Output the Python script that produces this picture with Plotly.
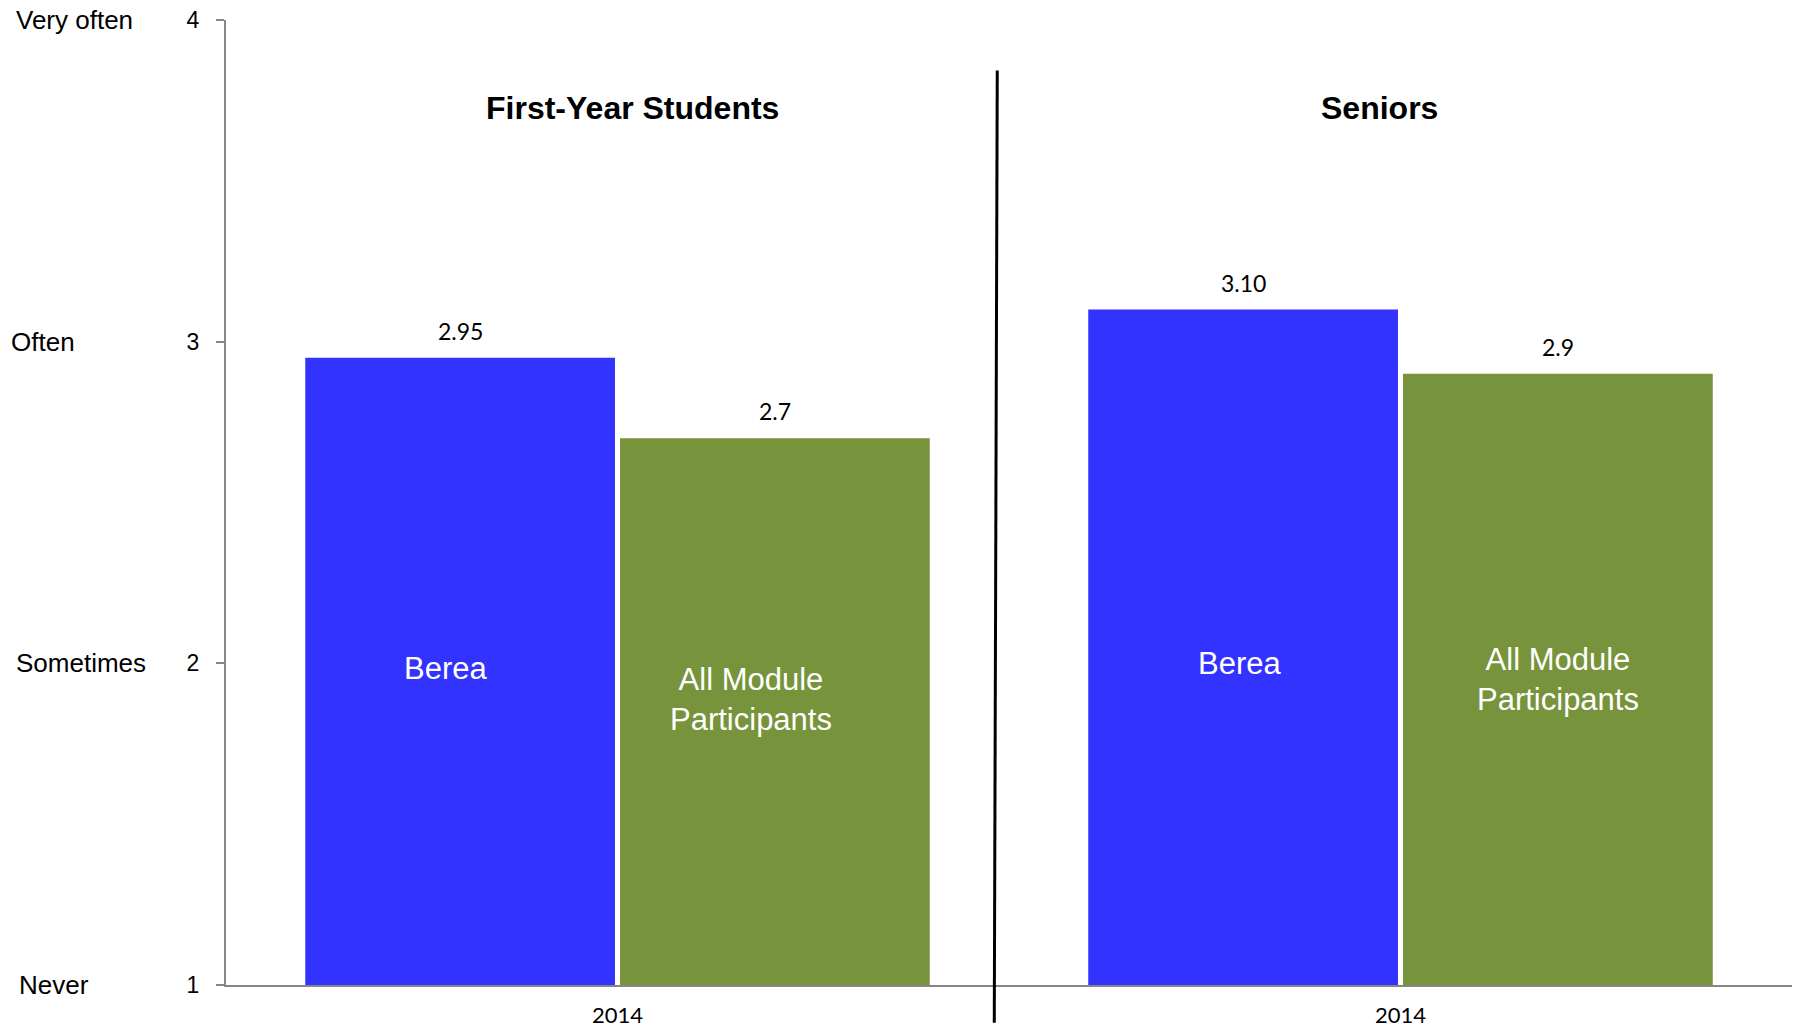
import plotly.graph_objects as go

# Mean response by class level (1 = Never ... 4 = Very often)
groups = ["First-Year Students", "Seniors"]
year_labels = ["2014", "2014"]
series_names = ["Berea", "All Module Participants"]
berea_values = [2.95, 3.10]
module_values = [2.7, 2.9]
berea_text = ["2.95", "3.10"]
module_text = ["2.7", "2.9"]
scale_labels = ["Never", "Sometimes", "Often", "Very often"]
scale_values = [1, 2, 3, 4]

BLUE = "#3333FF"
GREEN = "#77933C"
AXIS_GRAY = "#868686"
ARIAL = "Liberation Sans, Arial, sans-serif"
CALIBRI = "Lato, Carlito, Calibri, sans-serif"

BARGAP = 0.196
BARGROUPGAP = 0.016
half_slot = (1 - BARGAP) / 4  # centre offset of each bar within its group

# vertical placement of the series names inside the bars (data units)
berea_name_y = [1.983, 2.0]
module_name_y = [1.887, 1.951]
berea_name_dx = [-15, -4]
module_name_dx = [-24, 0]
# left offsets (px) of the verbal scale labels
scale_label_dx = [-209, -212, -217, -212]

x_pos = list(range(len(groups)))

fig = go.Figure()
fig.add_trace(go.Bar(x=x_pos, y=berea_values, base=0, name=series_names[0],
                     marker=dict(color=BLUE, line=dict(width=0))))
fig.add_trace(go.Bar(x=x_pos, y=module_values, base=0, name=series_names[1],
                     marker=dict(color=GREEN, line=dict(width=0))))

annotations = []
for i in x_pos:
    # value labels above each bar
    annotations.append(dict(x=i - half_slot, y=berea_values[i], xref="x", yref="y",
                            text=berea_text[i], showarrow=False, yshift=27,
                            font=dict(family=CALIBRI, size=23, color="#000000")))
    annotations.append(dict(x=i + half_slot, y=module_values[i], xref="x", yref="y",
                            text=module_text[i], showarrow=False, yshift=27,
                            font=dict(family=CALIBRI, size=23, color="#000000")))
    # series names inside the bars
    annotations.append(dict(x=i - half_slot, y=berea_name_y[i], xref="x", yref="y",
                            text="Berea", showarrow=False, xshift=berea_name_dx[i],
                            font=dict(family=ARIAL, size=31, color="#FFFFFF")))
    annotations.append(dict(x=i + half_slot, y=module_name_y[i], xref="x", yref="y",
                            text="<span style='line-height:1'>All Module<br>Participants</span>",
                            showarrow=False, xshift=module_name_dx[i],
                            font=dict(family=ARIAL, size=31, color="#FFFFFF")))
    # panel titles
    annotations.append(dict(x=i, y=3.725, xref="x", yref="y",
                            text="<b>" + groups[i] + "</b>", showarrow=False,
                            xshift=15 if i == 0 else -21,
                            font=dict(family=ARIAL, size=32, color="#000000")))

# verbal scale labels to the left of the numeric ticks
for v, lab, dx in zip(scale_values, scale_labels, scale_label_dx):
    annotations.append(dict(x=0.0, y=v, xref="paper", yref="y", text=lab,
                            showarrow=False, xanchor="left", xshift=dx,
                            font=dict(family=ARIAL, size=26, color="#000000")))

shapes = [
    # divider between the two class levels
    dict(type="line", xref="paper", yref="paper", x0=0.4925, y0=0.9476,
         x1=0.4906, y1=-0.039, line=dict(color="#000000", width=3)),
    # category boundary tick on the horizontal axis
    dict(type="line", xref="x", yref="y", x0=0.5, x1=0.5, y0=0, y1=-8,
         ysizemode="pixel", yanchor=1, line=dict(color=AXIS_GRAY, width=2)),
]

fig.update_layout(
    width=1795, height=1033,
    margin=dict(l=226, r=3, t=20, b=48),
    paper_bgcolor="#FFFFFF", plot_bgcolor="#FFFFFF",
    barmode="group", bargap=BARGAP, bargroupgap=BARGROUPGAP,
    showlegend=False,
    annotations=annotations,
    shapes=shapes,
    xaxis=dict(range=[-0.5, 1.5], tickvals=x_pos, ticktext=year_labels,
               showgrid=False, zeroline=False, showline=True,
               linecolor=AXIS_GRAY, linewidth=2, ticks="",
               tickfont=dict(family=CALIBRI, size=22, color="#000000"),
               ticklabelstandoff=10),
    yaxis=dict(range=[1, 4], tickvals=scale_values, showgrid=False, zeroline=False,
               showline=True, linecolor=AXIS_GRAY, linewidth=2,
               ticks="outside", ticklen=8, tickcolor=AXIS_GRAY, tickwidth=2,
               tickfont=dict(family=ARIAL, size=23, color="#000000"),
               ticklabelstandoff=12),
)

fig.write_html("out.html")
